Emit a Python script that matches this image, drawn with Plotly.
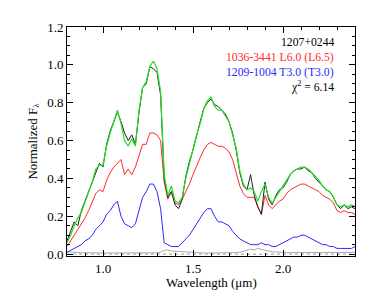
import plotly.graph_objects as go

wavelength = [0.80, 0.82, 0.84, 0.86, 0.88, 0.90, 0.92, 0.94, 0.96, 0.98,
              1.00, 1.02, 1.04, 1.06, 1.08, 1.10, 1.12, 1.14, 1.16, 1.18,
              1.20, 1.22, 1.24, 1.26, 1.28, 1.30, 1.32, 1.34, 1.36, 1.38,
              1.40, 1.42, 1.44, 1.46, 1.48, 1.50, 1.52, 1.54, 1.56, 1.58,
              1.60, 1.62, 1.64, 1.66, 1.68, 1.70, 1.72, 1.74, 1.76, 1.78,
              1.80, 1.82, 1.84, 1.86, 1.88, 1.90, 1.92, 1.94, 1.96, 1.98,
              2.00, 2.02, 2.04, 2.06, 2.08, 2.10, 2.12, 2.14, 2.16, 2.18,
              2.20, 2.22, 2.24, 2.26, 2.28, 2.30, 2.32, 2.34, 2.36, 2.38, 2.40]

target_1207 = [0.07, 0.12, 0.17, 0.15, 0.23, 0.28, 0.33, 0.39, 0.44, 0.48,
               0.46, 0.58, 0.65, 0.70, 0.75, 0.70, 0.64, 0.60, 0.63, 0.58,
               0.75, 0.88, 0.90, 0.99, 0.98, 0.96, 0.84, 0.40, 0.30, 0.33,
               0.26, 0.24, 0.29, 0.41, 0.49, 0.55, 0.63, 0.70, 0.77, 0.80,
               0.82, 0.79, 0.78, 0.76, 0.74, 0.70, 0.64, 0.55, 0.43, 0.36,
               0.34, 0.42, 0.31, 0.25, 0.21, 0.38, 0.29, 0.26, 0.31, 0.34,
               0.35, 0.38, 0.42, 0.44, 0.45, 0.45, 0.46, 0.44, 0.43, 0.40,
               0.38, 0.36, 0.34, 0.33, 0.30, 0.26, 0.24, 0.26, 0.24, 0.25, 0.24]

composite_fit = [0.06, 0.10, 0.15, 0.19, 0.22, 0.27, 0.33, 0.38, 0.45, 0.47,
                 0.47, 0.57, 0.64, 0.70, 0.76, 0.69, 0.60, 0.57, 0.61, 0.57,
                 0.76, 0.88, 0.91, 0.99, 1.02, 0.98, 0.86, 0.42, 0.31, 0.36,
                 0.28, 0.27, 0.30, 0.40, 0.48, 0.55, 0.63, 0.69, 0.77, 0.81,
                 0.83, 0.78, 0.76, 0.76, 0.73, 0.70, 0.63, 0.56, 0.44, 0.37,
                 0.34, 0.35, 0.33, 0.28, 0.33, 0.37, 0.30, 0.27, 0.30, 0.33,
                 0.36, 0.39, 0.42, 0.44, 0.45, 0.46, 0.46, 0.45, 0.43, 0.41,
                 0.39, 0.36, 0.34, 0.33, 0.30, 0.26, 0.25, 0.26, 0.25, 0.26, 0.25]

template_L6 = [0.04, 0.07, 0.10, 0.13, 0.16, 0.19, 0.23, 0.28, 0.32, 0.34,
               0.33, 0.39, 0.43, 0.46, 0.48, 0.50, 0.42, 0.45, 0.42, 0.46,
               0.52, 0.58, 0.58, 0.64, 0.64, 0.63, 0.60, 0.38, 0.29, 0.33,
               0.27, 0.26, 0.29, 0.33, 0.37, 0.42, 0.47, 0.51, 0.55, 0.58,
               0.59, 0.58, 0.57, 0.57, 0.56, 0.54, 0.50, 0.43, 0.36, 0.32,
               0.30, 0.30, 0.30, 0.25, 0.21, 0.31, 0.26, 0.24, 0.26, 0.28,
               0.29, 0.32, 0.34, 0.35, 0.36, 0.37, 0.37, 0.36, 0.35, 0.34,
               0.33, 0.31, 0.30, 0.29, 0.27, 0.23, 0.22, 0.23, 0.22, 0.22, 0.21]

template_T3 = [0.01, 0.02, 0.03, 0.04, 0.05, 0.07, 0.08, 0.10, 0.13, 0.15,
               0.17, 0.21, 0.23, 0.26, 0.28, 0.20, 0.16, 0.15, 0.14, 0.16,
               0.23, 0.30, 0.33, 0.37, 0.37, 0.33, 0.24, 0.06, 0.05, 0.04,
               0.04, 0.04, 0.06, 0.08, 0.10, 0.13, 0.16, 0.19, 0.22, 0.24,
               0.24, 0.20, 0.17, 0.17, 0.16, 0.15, 0.12, 0.10, 0.08, 0.07,
               0.06, 0.05, 0.05, 0.05, 0.06, 0.05, 0.05, 0.04, 0.04, 0.05,
               0.06, 0.07, 0.08, 0.09, 0.09, 0.10, 0.10, 0.09, 0.08, 0.07,
               0.06, 0.05, 0.05, 0.04, 0.04, 0.03, 0.03, 0.03, 0.03, 0.03, 0.04]

noise = [0.012, 0.010, 0.008, 0.008, 0.007, 0.007, 0.006, 0.006, 0.006, 0.006,
         0.006, 0.006, 0.006, 0.006, 0.006, 0.006, 0.006, 0.006, 0.006, 0.006,
         0.006, 0.006, 0.006, 0.006, 0.006, 0.007, 0.010, 0.020, 0.022, 0.016,
         0.015, 0.014, 0.010, 0.008, 0.007, 0.006, 0.006, 0.006, 0.006, 0.006,
         0.006, 0.006, 0.006, 0.006, 0.006, 0.006, 0.007, 0.008, 0.010, 0.014,
         0.020, 0.026, 0.022, 0.030, 0.024, 0.022, 0.016, 0.012, 0.010, 0.009,
         0.008, 0.008, 0.008, 0.008, 0.008, 0.008, 0.008, 0.008, 0.008, 0.008,
         0.008, 0.008, 0.008, 0.008, 0.009, 0.009, 0.009, 0.009, 0.009, 0.009, 0.009]

x_ticks = [1.0, 1.5, 2.0]
y_ticks = [0.0, 0.2, 0.4, 0.6, 0.8, 1.0, 1.2]

label_lines = ["1207+0244", "1036-3441 L6.0 (L6.5)", "1209-1004 T3.0 (T3.0)", "χ<sup>2</sup> = 6.14"]
label_colors = ["#000000", "#ff2a2a", "#2a2aff", "#000000"]

FONT = "Liberation Serif"

fig = go.Figure()
fig.add_trace(go.Scatter(x=[0.8, 2.4], y=[0, 0], mode="lines",
                         line=dict(color="#999999", width=1, dash="dot")))
fig.add_trace(go.Scatter(x=wavelength, y=noise, mode="lines",
                         line=dict(color="#aaaaaa", width=1)))
fig.add_trace(go.Scatter(x=wavelength, y=template_T3, mode="lines",
                         line=dict(color="#2a2aff", width=1)))
fig.add_trace(go.Scatter(x=wavelength, y=template_L6, mode="lines",
                         line=dict(color="#ff2a2a", width=1)))
fig.add_trace(go.Scatter(x=wavelength, y=target_1207, mode="lines",
                         line=dict(color="#222222", width=1)))
fig.add_trace(go.Scatter(x=wavelength, y=composite_fit, mode="lines",
                         line=dict(color="#22e022", width=1.2)))

ann = []
ys = [0.932, 0.868, 0.800, 0.740]
for t, c, yy in zip(label_lines, label_colors, ys):
    ann.append(dict(text=t, x=0.934, y=yy, xref="paper", yref="paper",
                    xanchor="right", yanchor="middle", showarrow=False,
                    font=dict(family=FONT, size=11.7, color=c)))
ann.append(dict(text="Normalized F<sub>λ</sub>", x=-0.118, y=0.5, xref="paper", yref="paper",
                textangle=-90, xanchor="center", yanchor="middle", showarrow=False,
                font=dict(family=FONT, size=13, color="#000")))
ann.append(dict(text="Wavelength (μm)", x=0.5, y=-0.115, xref="paper", yref="paper",
                xanchor="center", yanchor="middle", showarrow=False,
                font=dict(family=FONT, size=13, color="#000")))

fig.update_layout(
    width=374, height=299,
    margin=dict(l=59, r=27, t=13, b=51),
    paper_bgcolor="white", plot_bgcolor="white",
    showlegend=False,
    annotations=ann,
    font=dict(family=FONT, size=13, color="#000"),
    xaxis=dict(range=[0.8, 2.4], tickvals=x_ticks, ticktext=["1.0", "1.5", "2.0"],
               ticks="inside", ticklen=6, tickcolor="#000", showline=True, linecolor="#000",
               linewidth=1, mirror="ticks", showgrid=False, zeroline=False,
               minor=dict(dtick=0.1, tick0=0.8, ticks="inside", ticklen=3, tickcolor="#000"),
               tickfont=dict(family=FONT, size=13)),
    yaxis=dict(range=[-0.01, 1.2], tickvals=y_ticks, ticktext=["0.0", "0.2", "0.4", "0.6", "0.8", "1.0", "1.2"],
               ticks="inside", ticklen=6, tickcolor="#000", showline=True, linecolor="#000",
               linewidth=1, mirror="ticks", showgrid=False, zeroline=False,
               minor=dict(dtick=0.05, tick0=0, ticks="inside", ticklen=3, tickcolor="#000"),
               tickfont=dict(family=FONT, size=13)),
)

fig.write_html("out.html")
